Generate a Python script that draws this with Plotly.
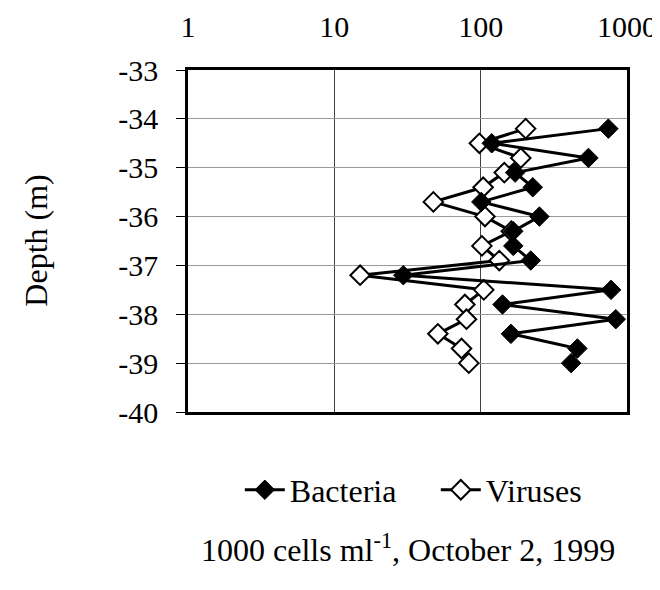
import plotly.graph_objects as go

# Profundidades (m) y abundancias (1000 células/ml)
depth = [-34.2, -34.5, -34.8, -35.1, -35.4, -35.7, -36.0, -36.3, -36.6,
         -36.9, -37.2, -37.5, -37.8, -38.1, -38.4, -38.7, -39.0]
bacteria = [746, 119, 545, 172, 227, 101, 252, 167, 167,
            220, 29.6, 778, 141, 838, 161, 458, 415]
viruses = [203, 98, 188, 145, 104, 47.5, 107, 162, 102,
           134, 15, 105, 78, 80, 51, 74, 83]
x_ticks = [1, 10, 100, 1000]
y_ticks = [-33, -34, -35, -36, -37, -38, -39, -40]

FONT = "Liberation Serif, Times New Roman, serif"
FS = 32

fig = go.Figure()

fig.add_trace(go.Scatter(
    x=viruses, y=depth, name="Viruses", mode="lines+markers",
    line=dict(color="black", width=3),
    marker=dict(symbol="diamond", size=15, color="white",
                line=dict(color="black", width=2)),
    legendrank=2,
))
fig.add_trace(go.Scatter(
    x=bacteria, y=depth, name="Bacteria", mode="lines+markers",
    line=dict(color="black", width=3),
    marker=dict(symbol="diamond", size=15, color="black",
                line=dict(color="black", width=1)),
    legendrank=1,
))

# la página tiene 8 px de margen en el body: figura de 652x574
fig.update_layout(
    width=652, height=574,
    margin=dict(l=180, r=33, t=62, b=170, autoexpand=False),
    paper_bgcolor="white", plot_bgcolor="white",
    font=dict(family=FONT, size=FS, color="black"),
    showlegend=True,
    legend=dict(orientation="h", x=0.118, xanchor="left", y=-0.228,
                yanchor="middle", font=dict(size=FS), itemwidth=40,
                entrywidth=141, tracegroupgap=0),
)

fig.update_xaxes(
    type="log", range=[0, 3], side="top", automargin=False,
    tickvals=x_ticks, ticktext=[str(v) for v in x_ticks],
    tickfont=dict(size=30),
    showgrid=True, gridcolor="#404040", gridwidth=1,
    showline=True, linecolor="black", linewidth=2.5, mirror=True,
    ticks="", ticklabelstandoff=18, zeroline=False,
)
fig.update_yaxes(
    range=[-40, -33], automargin=False,
    tickvals=y_ticks, ticktext=[str(v) for v in y_ticks],
    tickfont=dict(size=30),
    showgrid=True, gridcolor="#9a9a9a", gridwidth=1,
    showline=True, linecolor="black", linewidth=2.5, mirror=True,
    ticks="outside", ticklen=9, tickcolor="black", tickwidth=1,
    ticklabelstandoff=12, zeroline=False,
)

fig.add_annotation(
    text="Depth (m)", textangle=-90, xref="paper", yref="paper",
    x=-0.347, y=0.5, xanchor="center", yanchor="middle",
    showarrow=False, font=dict(size=FS),
)
fig.add_annotation(
    text="1000 cells ml<sup>-1</sup>, October 2, 1999",
    xref="paper", yref="paper", x=0.5, y=-0.398,
    xanchor="center", yanchor="middle", showarrow=False,
    font=dict(size=FS),
)

fig.write_html("out.html")
